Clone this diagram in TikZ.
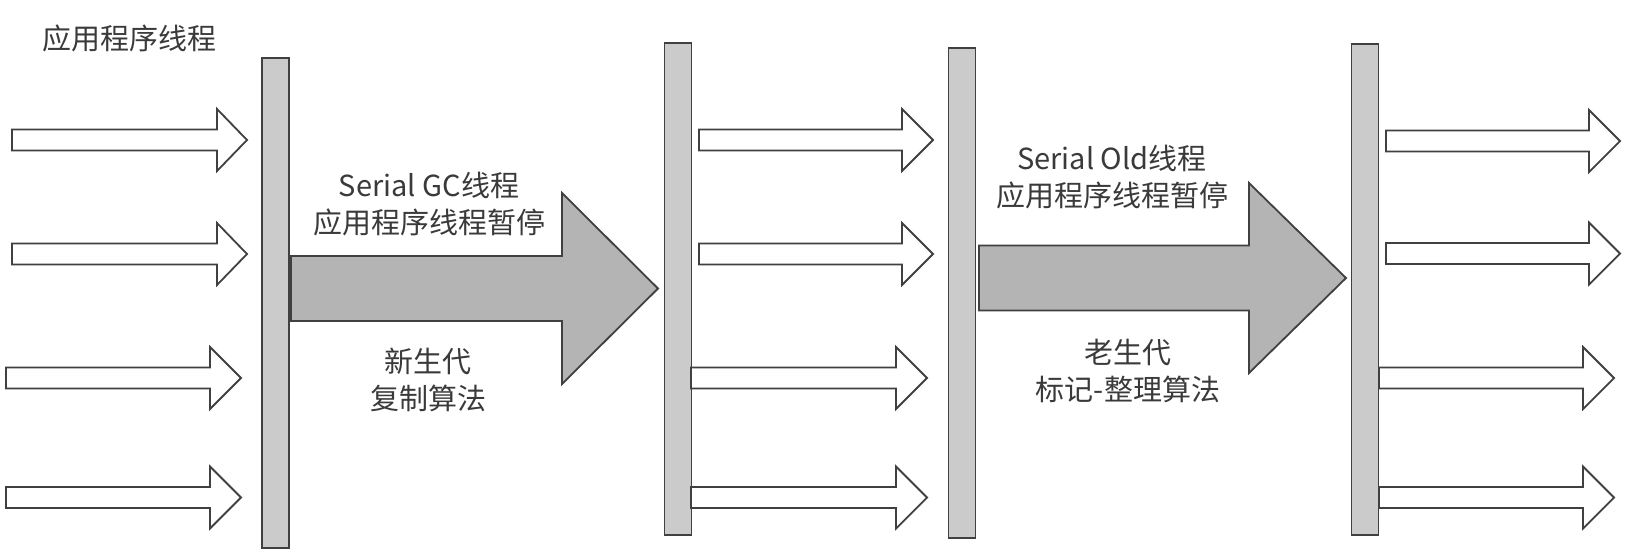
\documentclass[tikz,border=0pt]{standalone}
\usepackage{fontspec}
\setmainfont{Noto Sans CJK SC}
\newfontfamily\cjk{Noto Sans CJK SC}
\definecolor{edge}{HTML}{404040}
\definecolor{barfill}{HTML}{CBCBCB}
\definecolor{bigfill}{HTML}{B4B4B4}
\definecolor{txt}{HTML}{3A3A3A}
\newcommand\blockarrow[7]{\draw[#1] (#2,#5-#6) -- (#3,#5-#6) -- (#3,#5-#7) -- (#4,#5) -- (#3,#5+#7) -- (#3,#5+#6) -- (#2,#5+#6) -- cycle;}
\tikzset{
  barbox/.style={draw=edge, fill=barfill, line width=1.8pt, inner sep=0pt, minimum width=27pt},
  thinarrow/.style={draw=edge, fill=white, line width=1.8pt, line join=miter},
  bigarrow/.style={draw=edge, fill=bigfill, line width=1.8pt, line join=miter},
  label/.style={text=txt, font=\cjk\fontsize{29}{37}\selectfont, align=center, inner sep=0pt}
}
\begin{document}
\begin{tikzpicture}[x=1pt,y=-1pt]
\useasboundingbox (0,0) rectangle (1640,555);
\fill[white] (0,0) rectangle (1640,555);
% bars
\node[barbox, minimum height=490pt] (b1) at (275.5,303) {};
\node[barbox, minimum height=492pt] (b2) at (678,289) {};
\node[barbox, minimum height=490pt] (b3) at (962,293) {};
\node[barbox, minimum height=491pt] (b4) at (1365,289.5) {};
% left arrows
\blockarrow{thinarrow}{12}{217}{247}{140}{10.5}{31}
\blockarrow{thinarrow}{12}{217}{247}{254}{10.5}{31}
\blockarrow{thinarrow}{6}{210}{241}{378}{10.5}{31}
\blockarrow{thinarrow}{6}{210}{241}{497.5}{10.5}{31}
% middle arrows
\blockarrow{thinarrow}{699}{902}{933}{140}{10.5}{31}
\blockarrow{thinarrow}{699}{902}{933}{254}{10.5}{31}
\blockarrow{thinarrow}{691}{896}{927}{378}{10.5}{31}
\blockarrow{thinarrow}{691}{896}{927}{497.5}{10.5}{31}
% right arrows
\blockarrow{thinarrow}{1386}{1589}{1620}{141}{10.5}{31}
\blockarrow{thinarrow}{1386}{1589}{1620}{253.5}{10.5}{31}
\blockarrow{thinarrow}{1379}{1583}{1614}{378}{10.5}{31}
\blockarrow{thinarrow}{1379}{1583}{1614}{497.5}{10.5}{31}
% big arrows
\blockarrow{bigarrow}{291}{562}{658}{288.5}{32.5}{95.5}
\blockarrow{bigarrow}{979}{1249}{1346}{278}{32.5}{95}
% texts
\node[label] (title) at (129,38) {应用程序线程};
\node[label] (t1) at (429,204) {Serial GC线程\\应用程序线程暂停};
\node[label] (t2) at (428,380) {新生代\\复制算法};
\node[label] (t3) at (1112,177) {Serial Old线程\\应用程序线程暂停};
\node[label] (t4) at (1128,371) {老生代\\标记-整理算法};
\end{tikzpicture}
\end{document}
